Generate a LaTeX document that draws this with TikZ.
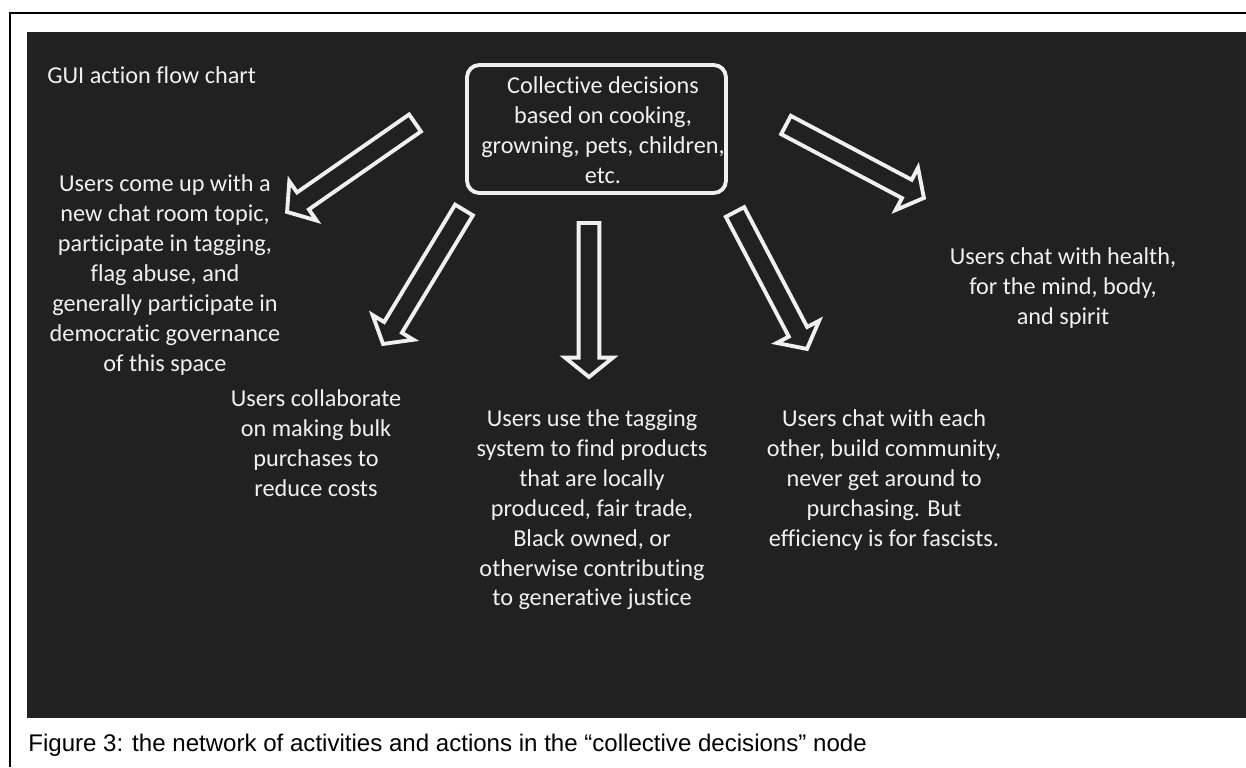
\documentclass[tikz,border=0pt]{standalone}
\usepackage{fontspec}
\setmainfont{Carlito}[Ligatures=NoCommon]
\newfontfamily\capfont{Liberation Sans}
\usetikzlibrary{calc}
\definecolor{slidebg}{RGB}{33,33,33}
\definecolor{slidetxt}{RGB}{240,240,240}

% hollow block arrow from tail coordinate to tip coordinate
\newcommand{\blockarrow}[2]{%
  \path let \p1=($(#2)-(#1)$) in
    \pgfextra{\pgfmathsetmacro\arrang{atan2(\y1,\x1)}%
      \pgfmathsetmacro\arrlen{veclen(\x1,\y1)}%
      \global\let\arrang\arrang \global\let\arrlen\arrlen};
  \draw[blockarr, shift={(#1)}, rotate=\arrang]
    (0pt,-5.9pt) -- (\arrlen pt-11pt,-5.9pt) -- (\arrlen pt-11pt,-13.6pt)
    -- (\arrlen pt,0pt) -- (\arrlen pt-11pt,13.6pt) -- (\arrlen pt-11pt,5.9pt)
    -- (0pt,5.9pt) -- cycle;}

\begin{document}
\begin{tikzpicture}[
  x=0.02cm, y=-0.02cm,
  txt/.style={text=slidetxt, align=center, inner sep=0pt,
              font=\fontsize{13.8}{17}\selectfont},
  hub/.style={rectangle, rounded corners=7pt, draw=slidetxt, line width=2.2pt,
              minimum width=5.18cm, minimum height=2.56cm},
  blockarr/.style={draw=slidetxt, line width=2.2pt, line join=miter}
]
\useasboundingbox (0,0) rectangle (1246,767);
% frame and slide
\draw[line width=1.2pt] (10,767) -- (10,13) -- (1246,13);
\fill[slidebg] (27,32) rectangle (1246,718);

% Title
\node[txt, anchor=west] (title) at (47,75) {GUI action flow chart};

% Hub
\node[hub] (hub) at (596.5,129) {};
\node[txt] (hubtext) at (603,130) {Collective decisions\\based on cooking,\\growning, pets, children,\\etc.};

% Outcomes
\node[txt] (govern) at (165,275) {Users come up with a\\new chat room topic,\\participate in tagging,\\flag abuse, and\\generally participate in\\democratic governance\\of this space};
\node[txt] (bulk) at (316,443) {Users collaborate\\on making bulk\\purchases to\\reduce costs};
\node[txt] (tagging) at (592,510) {Users use the tagging\\system to find products\\that are locally\\produced, fair trade,\\Black owned, or\\otherwise contributing\\to generative justice};
\node[txt] (chat) at (884,480) {Users chat with each\\other, build community,\\never get around to\\purchasing. But\\efficiency is for fascists.};
\node[txt] (health) at (1063,288) {Users chat with health,\\for the mind, body,\\and spirit};

% Arrow ends
\coordinate (t1) at (415,123); \coordinate (h1) at (287,212);
\coordinate (t2) at (464,210); \coordinate (h2) at (383,344);
\coordinate (t3) at (589,223); \coordinate (h3) at (589,377);
\coordinate (t4) at (735,212); \coordinate (h4) at (807,349);
\coordinate (t5) at (786,125); \coordinate (h5) at (924,198);

% Arrows
\blockarrow{t1}{h1}
\blockarrow{t2}{h2}
\blockarrow{t3}{h3}
\blockarrow{t4}{h4}
\blockarrow{t5}{h5}

% Caption
\node[anchor=west, inner sep=0pt, font=\capfont\fontsize{13.7}{16}\selectfont] (caption) at (28,745)
  {Figure 3: the network of activities and actions in the “collective decisions” node};
\end{tikzpicture}
\end{document}
